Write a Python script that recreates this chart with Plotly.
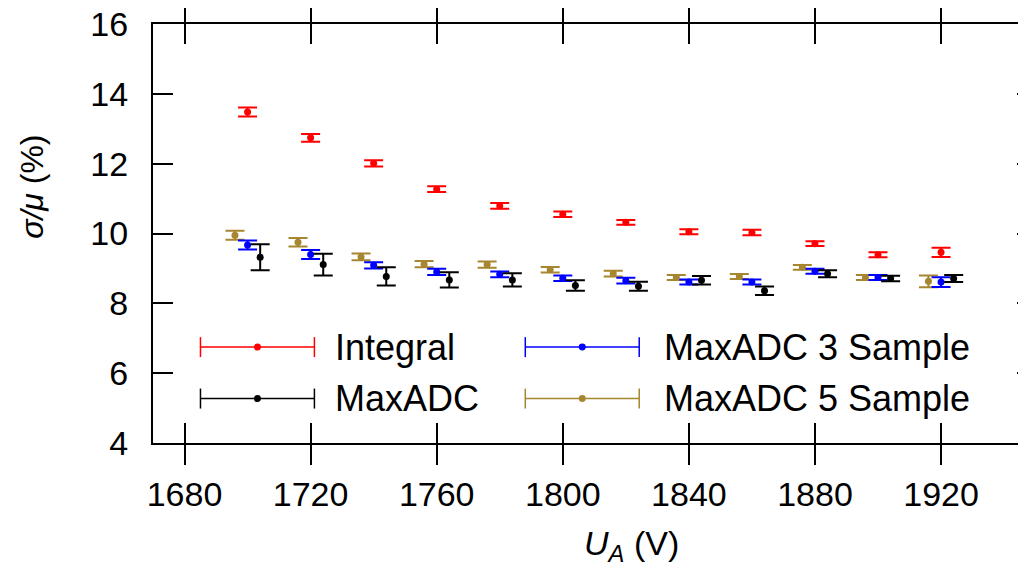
import plotly.graph_objects as go

# ---------------- data ----------------
voltage = [1700, 1720, 1740, 1760, 1780, 1800, 1820, 1840, 1860, 1880, 1900, 1920]

integral = [13.48, 12.74, 12.01, 11.27, 10.79, 10.55, 10.32, 10.05, 10.03, 9.71, 9.39, 9.46]
integral_err = [0.13, 0.11, 0.09, 0.085, 0.08, 0.08, 0.07, 0.07, 0.08, 0.07, 0.07, 0.13]

maxadc = [9.32, 9.11, 8.77, 8.67, 8.67, 8.51, 8.49, 8.66, 8.36, 8.85, 8.71, 8.71]
maxadc_err = [0.37, 0.31, 0.26, 0.22, 0.19, 0.15, 0.13, 0.12, 0.12, 0.10, 0.08, 0.10]

maxadc3 = [9.67, 9.40, 9.09, 8.90, 8.83, 8.72, 8.65, 8.61, 8.61, 8.92, 8.74, 8.61]
maxadc3_err = [0.13, 0.13, 0.09, 0.09, 0.08, 0.08, 0.08, 0.07, 0.07, 0.07, 0.07, 0.14]

maxadc5 = [9.95, 9.75, 9.33, 9.12, 9.11, 8.96, 8.85, 8.74, 8.77, 9.03, 8.74, 8.63]
maxadc5_err = [0.13, 0.12, 0.095, 0.09, 0.09, 0.08, 0.08, 0.07, 0.07, 0.07, 0.07, 0.17]

series_names = ["Integral", "MaxADC", "MaxADC 3 Sample", "MaxADC 5 Sample"]

x_ticks = [1680, 1720, 1760, 1800, 1840, 1880, 1920]
y_ticks = [4, 6, 8, 10, 12, 14, 16]

# ---------------- style ----------------
RED = "#ff0000"
BLUE = "#0000ff"
BLACK = "#000000"
GOLD = "#a6862f"
FONT = "Liberation Sans"

OFF = 8  # page body margin of the browser
W, H = 1026 - OFF, 569 - OFF
# plot area in screen pixels (as in the reference), converted to figure pixels
L, R, T, B = 152.5 - OFF, 1026 - OFF, 23.5 - OFF, 443 - OFF
X_RANGE = [1670, 1670 + (R - L) / 3.154]
Y_RANGE = [4, 16]


def px(x):
    """screen pixel x -> paper coordinate"""
    return (x - OFF - L) / (R - L)


def py(y):
    """screen pixel y -> paper coordinate"""
    return (B - (y - OFF)) / (B - T)


fig = go.Figure()


def add_series(y, err, color, shift):
    fig.add_trace(go.Scatter(
        x=[v + shift for v in voltage], y=y,
        mode="markers",
        marker=dict(color=color, size=7),
        error_y=dict(type="data", array=err, visible=True, color=color,
                     thickness=2, width=9.5),
        showlegend=False, cliponaxis=False,
    ))


add_series(maxadc5, maxadc5_err, GOLD, -4)
add_series(maxadc3, maxadc3_err, BLUE, 0)
add_series(maxadc, maxadc_err, BLACK, 4)
add_series(integral, integral_err, RED, 0)

# invisible trace for the right-hand tick axis
fig.add_trace(go.Scatter(x=[X_RANGE[0]], y=[Y_RANGE[0]], yaxis="y2",
                         mode="markers", marker=dict(opacity=0),
                         showlegend=False, hoverinfo="skip"))

common = dict(ticks="inside", tickwidth=1.5, tickcolor="black", ticklen=20,
              showline=True, linecolor="black", linewidth=2,
              showgrid=False, zeroline=False, automargin=False)

fig.update_layout(
    width=W, height=H,
    margin=dict(l=L, r=W - R, t=T, b=H - B, autoexpand=False),
    paper_bgcolor="white", plot_bgcolor="white",
    font=dict(family=FONT, color="black"),
    xaxis=dict(range=X_RANGE, tickvals=x_ticks, mirror="allticks",
               tickfont=dict(size=34, family=FONT), ticklabelstandoff=20,
               **common),
    yaxis=dict(range=Y_RANGE, tickvals=y_ticks, mirror=False,
               tickfont=dict(size=34, family=FONT), ticklabelstandoff=16,
               ticklabeloverflow="allow", **common),
    yaxis2=dict(range=Y_RANGE, tickvals=y_ticks, overlaying="y", side="right",
                anchor="x", ticks="inside", ticklen=9, tickwidth=1.5,
                tickcolor="black", showticklabels=False, showline=False,
                showgrid=False, zeroline=False, automargin=False),
)

annotations = [
    dict(text="<i>σ/μ</i> (%)", x=px(32), y=py(187), xref="paper", yref="paper",
         textangle=-90, showarrow=False, font=dict(size=32, family=FONT),
         xanchor="center", yanchor="middle"),
    dict(text="<i>U</i><sub><i>A</i></sub> (V)", x=px(631), y=py(546),
         xref="paper", yref="paper", showarrow=False,
         font=dict(size=34, family=FONT), xanchor="center", yanchor="middle"),
]

shapes = []
legend_items = [
    (series_names[0], RED, 200, 314, 257, 347, 333),
    (series_names[1], BLACK, 200, 314, 257, 398.5, 333),
    (series_names[2], BLUE, 525, 639, 582, 347, 662),
    (series_names[3], GOLD, 525, 639, 582, 398.5, 662),
]
for name, color, x0, x1, xm, yc, xt in legend_items:
    shapes.append(dict(type="line", xref="paper", yref="paper",
                       x0=px(x0), x1=px(x1), y0=py(yc), y1=py(yc),
                       line=dict(color=color, width=1.5)))
    for xe in (x0, x1):
        shapes.append(dict(type="line", xref="paper", yref="paper",
                           x0=px(xe), x1=px(xe), y0=py(yc - 10), y1=py(yc + 10),
                           line=dict(color=color, width=1.5)))
    shapes.append(dict(type="circle", xref="paper", yref="paper",
                       x0=px(xm - 3.5), x1=px(xm + 3.5),
                       y0=py(yc + 3.5), y1=py(yc - 3.5),
                       fillcolor=color, line=dict(color=color, width=0)))
    annotations.append(dict(text=name, x=px(xt), y=py(yc), xref="paper",
                            yref="paper", showarrow=False, xanchor="left",
                            yanchor="middle",
                            font=dict(size=36, family=FONT, color="black")))

fig.update_layout(annotations=annotations, shapes=shapes)

fig.write_html("out.html")
